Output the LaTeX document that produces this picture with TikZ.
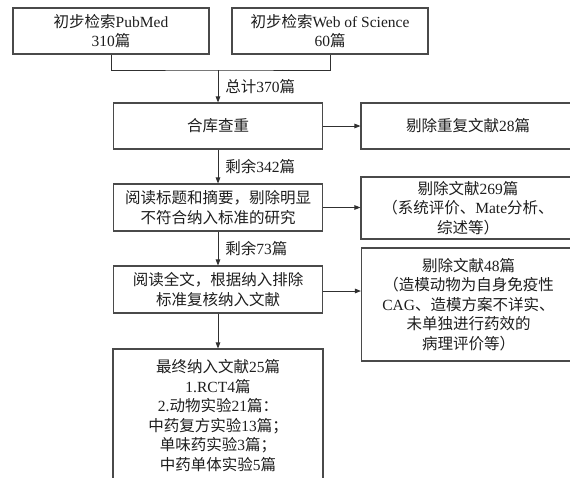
\documentclass[tikz,border=0pt]{standalone}
\usepackage{fontspec}
\setmainfont{Liberation Serif}
\newfontfamily\cjk{Noto Sans CJK SC}
\usepackage{tikz}
\usetikzlibrary{arrows.meta}
\definecolor{BoxLine}{HTML}{4A4A4A}
\definecolor{ArrLine}{HTML}{303030}
\definecolor{TextInk}{HTML}{1E1E1E}
\newcommand{\lat}[1]{{\rmfamily #1}}
\newcommand{\srcbox}[3]{\node[box,minimum width=196pt,minimum height=46pt] (#1) at #2 {#3};}
\newcommand{\mainbox}[4]{\node[box,minimum width=209pt,minimum height=#3] (#1) at #2 {#4};}
\newcommand{\sidebox}[4]{\node[box,minimum width=214pt,minimum height=#3] (#1) at #2 {#4};}

\begin{document}
\begin{tikzpicture}[x=1pt, y=-1pt,
  box/.style={draw=BoxLine, line width=1.1pt, fill=white, align=center, inner sep=2pt,
    font=\cjk\fontsize{15.5}{19.5}\selectfont, text=TextInk},
  arr/.style={-{Triangle[length=6pt,width=4.5pt]}, draw=ArrLine, line width=0.9pt},
  ln/.style={draw=ArrLine, line width=0.9pt},
  lbl/.style={right, inner sep=0pt, xshift=7pt,
    font=\cjk\fontsize{15.5}{19.5}\selectfont, text=TextInk},
]
\fill[white] (0,0) rectangle (570,477);
\useasboundingbox (0,0) rectangle (570,477);
\clip (0,0) rectangle (570,477);

%% ── Search sources ───────────────────────────────────────────────────────
\srcbox{pub}{(111,31)}{初步检索\lat{PubMed}\\\lat{310}篇}
\srcbox{wos}{(330,31)}{初步检索\lat{Web of Science}\\\lat{60}篇}
\coordinate (join) at (218,70);

\draw[ln] (pub.south) |- (join) -| (wos.south);

%% ── Main flow ────────────────────────────────────────────────────────────
\mainbox{merge}{(218,126)}{46pt}{合库查重}
\mainbox{screen}{(218,207.5)}{47pt}{阅读标题和摘要，剔除明显\\不符合纳入标准的研究}
\mainbox{full}{(218,289.5)}{47pt}{阅读全文，根据纳入排除\\标准复核纳入文献}
\node[box,minimum width=210pt,minimum height=133pt] (final) at (218,415.5)
  {最终纳入文献\lat{25}篇\\\lat{1.RCT4}篇\\\lat{2.}动物实验\lat{21}篇：\\
   中药复方实验\lat{13}篇；\\单味药实验\lat{3}篇；\\中药单体实验\lat{5}篇};

\draw[arr] (join) -- node[lbl] {总计\lat{370}篇} (merge);
\draw[arr] (merge) -- node[lbl] {剩余\lat{342}篇} (screen);
\draw[arr] (screen) -- node[lbl] {剩余\lat{73}篇} (full);
\draw[arr] (full) -- (final);

%% ── Exclusions ───────────────────────────────────────────────────────────
\sidebox{dup}{(468,126)}{46pt}{剔除重复文献\lat{28}篇}
\sidebox{excl1}{(468,208)}{62pt}{剔除文献\lat{269}篇\\（系统评价、\lat{Mate}分析、\\综述等）}
\sidebox{excl2}{(468.5,304.5)}{113pt}{剔除文献\lat{48}篇\\（造模动物为自身免疫性\\
  \lat{CAG}、造模方案不详实、\\未单独进行药效的\\病理评价等）}

\draw[arr] (merge.east) -- (merge.east -| dup.west);
\draw[arr] (screen.east) -- (screen.east -| excl1.west);
\draw[arr] ([yshift=-1.5pt]full.east) -- ([yshift=-1.5pt]full.east -| excl2.west);

\end{tikzpicture}
\end{document}
